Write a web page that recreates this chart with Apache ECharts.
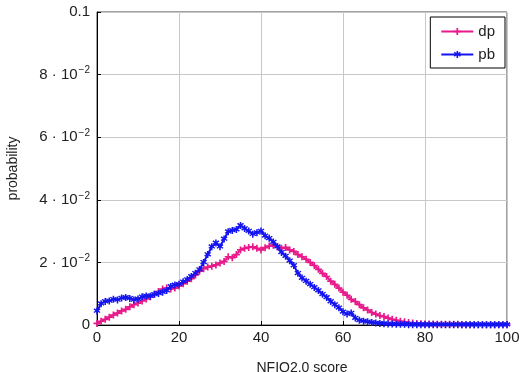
<!DOCTYPE html>
<html>
<head>
<meta charset="utf-8">
<script src="https://cdn.jsdelivr.net/npm/echarts@6/dist/echarts.min.js"></script>
<style>
html,body{margin:0;padding:0;background:#fff;}
#chart{width:522px;height:372px;}
</style>
</head>
<body>
<div id="chart"></div>
<script>
const scores = Array.from({length:101}, (_, i) => i);
const dp = [
0.0005,0.0012,0.0018,0.0025,0.0032,0.0038,0.0045,0.0050,0.0058,0.0065,
0.0070,0.0077,0.0083,0.0090,0.0098,0.0107,0.0115,0.0118,0.0115,0.0118,
0.0125,0.0132,0.0140,0.0148,0.0160,0.0172,0.0180,0.0185,0.0188,0.0192,
0.0198,0.0203,0.0218,0.0215,0.0225,0.0240,0.0245,0.0248,0.0250,0.0245,
0.0240,0.0247,0.0252,0.0255,0.0250,0.0245,0.0248,0.0240,0.0235,0.0225,
0.0218,0.0210,0.0200,0.0190,0.0178,0.0165,0.0155,0.0140,0.0130,0.0118,
0.0105,0.0095,0.0082,0.0075,0.0065,0.0055,0.0048,0.0040,0.0035,0.0030,
0.0027,0.0022,0.0018,0.0015,0.0012,0.0010,0.0008,0.0006,0.0005,0.0004,
0.0003,0.0003,0.0003,0.0002,0.0002,0.0002,0.0002,0.0002,0.0002,0.0001,
0.0001,0.0001,0.0001,0.0001,0.0001,0.0001,0.0001,0.0001,0.0001,0.0001,
0.0001
];
const pb = [
0.0045,0.0068,0.0075,0.0077,0.0082,0.0080,0.0086,0.0088,0.0085,0.0080,
0.0083,0.0090,0.0093,0.0092,0.0098,0.0101,0.0105,0.0110,0.0123,0.0128,
0.0130,0.0138,0.0145,0.0155,0.0165,0.0177,0.0200,0.0225,0.0250,0.0262,
0.0250,0.0275,0.0298,0.0302,0.0305,0.0318,0.0308,0.0300,0.0290,0.0295,
0.0300,0.0285,0.0277,0.0265,0.0250,0.0232,0.0220,0.0205,0.0190,0.0165,
0.0150,0.0140,0.0130,0.0120,0.0110,0.0098,0.0088,0.0075,0.0065,0.0055,
0.0042,0.0035,0.0038,0.0022,0.0015,0.0012,0.0010,0.0008,0.0006,0.0005,
0.0004,0.0003,0.0003,0.0002,0.0002,0.0002,0.0001,0.0001,0.0001,0.0001,
0.0001,0.0001,0.0001,0.0001,0.0001,0.0001,0.0001,0.0001,0.0001,0.0001,
0.0001,0.0001,0.0001,0.0001,0.0001,0.0001,0.0001,0.0001,0.0001,0.0001,
0.0001
];
const xTicks = [0,20,40,60,80,100];
const yTicks = [0,0.02,0.04,0.06,0.08,0.1];

const FONT = 'Liberation Sans';
const plusPath = 'path://M3.8,0H6.2V3.8H10V6.2H6.2V10H3.8V6.2H0V3.8H3.8Z';
const starPath = 'path://M4,0H6V3L8.3,1.2L9.5,2.8L7,4.6L9.5,6.4L8.3,8L6,6.2V10H4V6.2L1.7,8L0.5,6.4L3,4.6L0.5,2.8L1.7,1.2L4,3Z';

const chart = echarts.init(document.getElementById('chart'));
chart.setOption({
  animation: false,
  backgroundColor: '#fff',
  textStyle: {fontFamily: FONT},
  grid: {left: 97, right: 15, top: 12, bottom: 47, containLabel: false, outerBoundsMode: 'none',
         show: true, borderColor: '#444', borderWidth: 1},
  legend: {
    orient: 'vertical', right: 17, top: 17,
    data: ['dp','pb'],
    backgroundColor: '#fff', borderColor: '#000', borderWidth: 1,
    padding: [7, 10, 6, 10], itemGap: 8, itemWidth: 32, itemHeight: 9,
    textStyle: {fontFamily: FONT, fontSize: 15, color: '#222'}
  },
  xAxis: {
    type: 'value', min: 0, max: 100, interval: 20,
    name: 'NFIQ2.0 score', nameLocation: 'middle', nameGap: 36,
    nameTextStyle: {fontFamily: FONT, fontSize: 14, color: '#222'},
    axisLine: {show: true, onZero: false, lineStyle: {color: '#000', width: 1}},
    axisTick: {show: true, inside: true, length: 4, lineStyle: {color: '#000'}},
    axisLabel: {fontFamily: FONT, fontSize: 15, color: '#222', margin: 5,
      formatter: v => xTicks.includes(v) ? String(v) : ''},
    splitLine: {show: true, lineStyle: {color: '#c8c8c8', width: 1}}
  },
  yAxis: {
    type: 'value', min: 0, max: 0.1, interval: 0.02,
    name: 'probability', nameLocation: 'middle', nameGap: 77,
    nameTextStyle: {fontFamily: FONT, fontSize: 14, color: '#222'},
    axisLine: {show: true, onZero: false, lineStyle: {color: '#000', width: 1}},
    axisTick: {show: true, inside: true, length: 4, lineStyle: {color: '#000'}},
    axisLabel: {
      fontFamily: FONT, fontSize: 15, color: '#222', margin: 7,
      formatter: v => {
        const k = Math.round(v * 100);
        if (k === 0) return '0';
        if (k === 10) return '0.1';
        return '{b|' + k + ' · 10}{s|−2}';
      },
      rich: {
        b: {fontFamily: FONT, fontSize: 15, color: '#222'},
        s: {fontFamily: FONT, fontSize: 10, color: '#222', verticalAlign: 'top', padding: [0,0,8,1]}
      }
    },
    splitLine: {show: true, lineStyle: {color: '#c8c8c8', width: 1}}
  },
  series: [
    {
      name: 'dp', type: 'line',
      data: scores.map((x, i) => [x, dp[i]]),
      symbol: plusPath, symbolSize: 7, showSymbol: true,
      itemStyle: {color: '#e8198a'},
      lineStyle: {color: '#e8198a', width: 2},
      z: 2
    },
    {
      name: 'pb', type: 'line',
      data: scores.map((x, i) => [x, pb[i]]),
      symbol: starPath, symbolSize: 7, showSymbol: true,
      itemStyle: {color: '#1414f0'},
      lineStyle: {color: '#1414f0', width: 2},
      z: 3
    }
  ]
});
</script>
</body>
</html>
